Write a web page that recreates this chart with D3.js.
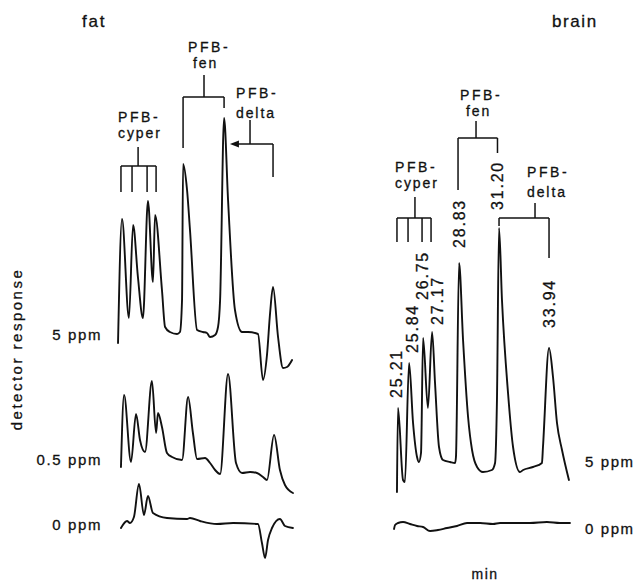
<!DOCTYPE html>
<html>
<head>
<meta charset="utf-8">
<script src="https://cdn.jsdelivr.net/npm/d3@7"></script>
<style>
  html, body { margin: 0; padding: 0; background: #fff; }
  svg { display: block; }
  text { font-family: 'Liberation Sans', Arial, sans-serif; fill: #111; stroke: #111; stroke-width: 0.3px; }
</style>
</head>
<body>
<svg id="chart" width="635" height="582"></svg>
<script>
// ---------------- DATA (time in min, response in arbitrary units) ----------------
const panels = ["fat", "brain"];
const fatLevels = ["5 ppm", "0.5 ppm", "0 ppm"];
const brainLevels = ["5 ppm", "0 ppm"];
const timeDomain = [24, 36];

const fat5ppm = [[24.98,-5],[25.21,57],[25.61,7.5],[25.85,54],[26.13,28],[26.42,7.5],[26.71,66],[27.00,25.5],
  [27.12,59],[27.52,21.5],[27.70,3],[27.98,0.5],[28.39,-0.5],[28.56,0.5],[28.68,16.5],[28.74,84.5],[28.97,71.5],
  [29.14,51.5],[29.55,1.5],[29.89,0.5],[30.12,0],[30.30,-2],[30.59,-1],[30.76,3],[30.88,16.5],[31.11,107.5],
  [31.34,66.5],[31.74,11.5],[32.15,0.5],[32.49,0.5],[33.07,-0.5],[33.36,-23.5],[33.59,-11],[33.77,10],[33.94,23],
  [34.23,-2],[34.52,-17.5],[34.75,-17],[35.04,-13.5]];

const fat05ppm = [[25.15,-1],[25.33,35],[25.73,1.5],[26.02,25.5],[26.25,12.5],[26.54,6.5],[26.94,42],[27.18,16],
  [27.29,26],[27.52,19],[27.81,6],[28.10,4],[28.68,2.5],[29.03,34],[29.31,16],[29.55,3],[30.01,3.5],[30.30,1],
  [30.59,-2.5],[30.88,-4.5],[31.34,45.5],[31.80,1],[32.15,-4],[32.61,-3.5],[33.01,-4],[33.36,-6],[33.59,-7.5],
  [34.00,15],[34.34,-2.5],[34.63,-10],[35.09,-14]];

const fat0ppm = [[25.15,-3],[25.50,0.5],[25.67,-0.5],[25.90,2.5],[26.19,19],[26.48,3.5],[26.71,13],[27.00,4.5],
  [27.81,2],[28.97,1.5],[29.14,2],[29.72,0.5],[30.70,-1],[31.63,-0.5],[33.07,-1],[33.30,-10.5],[33.48,-18],
  [33.65,-9],[33.88,-3],[34.34,1.5],[34.63,-2],[35.09,-3]];

const brain5ppm = [[25.15,-13.5],[25.21,28.5],[25.50,-7.5],[25.61,-8.5],[25.85,51],[26.08,21],[26.31,4],[26.42,1.5],
  [26.54,6],[26.66,63.5],[26.94,28.5],[27.18,66.5],[27.35,41],[27.58,9],[27.81,2.5],[28.22,1.5],[28.51,1],[28.56,4],
  [28.74,101],[28.97,62.5],[29.26,24],[29.49,7.5],[29.78,-1],[30.12,-3.5],[30.64,-2.5],[30.82,1],[30.93,32.5],
  [31.05,118.5],[31.22,82.5],[31.57,36],[31.86,9],[32.26,-3.5],[32.44,-2.5],[33.01,-1],[33.53,1],[33.59,9],
  [33.94,58.5],[34.17,44],[34.40,21],[34.69,7.5],[35.09,-7.5]];

const brain0ppm = [[24.98,-2],[25.04,0],[25.21,1],[25.50,1.5],[25.90,0.5],[26.31,-0.5],[26.66,-1],[27.06,-3],
  [27.52,-2.5],[28.04,-1.5],[28.62,-0.5],[29.20,1],[29.95,1],[30.70,0.5],[31.11,1],[31.86,1],[32.84,1],
  [33.82,1.5],[34.57,1],[35.15,1]];

// peak identifications
const groupNames = [["PFB-", "cyper"], ["PFB-", "fen"], ["PFB-", "delta"]];
const fatCyperTimes = [25.15, 25.79, 26.66, 27.18];
const fatFenTimes = [28.74, 31.11];
const fatDeltaTimes = [31.45, 33.94];
const brainCyperTimes = [25.15, 25.79, 26.60, 27.12];
const brainFenTimes = [28.68, 30.96];
const brainDeltaTimes = [31.05, 33.94];
const retentionLabels = ["25.21", "25.84", "26.75", "27.17", "28.83", "31.20", "33.94"];
const axisTitleX = "min";
const axisTitleY = "detector response";

// ---------------- LAYOUT ----------------
const svg = d3.select("#chart");
const ink = "#111";
const xFat = d3.scaleLinear().domain(timeDomain).range([101.07, 308.67]);
const xBrain = d3.scaleLinear().domain(timeDomain).range([377.07, 584.67]);
const yFor = base => d3.scaleLinear().domain([0, 100]).range([base, base - 200]);

const yFat5 = yFor(333), yFat05 = yFor(465), yFat0 = yFor(522);
const yBrain5 = yFor(465), yBrain0 = yFor(525);

function trace(data, x, y) {
  const line = d3.line().x(d => x(d[0])).y(d => y(d[1])).curve(d3.curveMonotoneX);
  svg.append("path").attr("d", line(data))
    .attr("fill", "none").attr("stroke", ink).attr("stroke-width", 1.9)
    .attr("stroke-linejoin", "round").attr("stroke-linecap", "round");
}
trace(fat5ppm, xFat, yFat5);
trace(fat05ppm, xFat, yFat05);
trace(fat0ppm, xFat, yFat0);
trace(brain5ppm, xBrain, yBrain5);
trace(brain0ppm, xBrain, yBrain0);

function txt(x, y, s, opts = {}) {
  const t = svg.append("text").attr("x", x).attr("y", y).text(s)
    .style("font-size", (opts.size || 14) + "px")
    .style("letter-spacing", (opts.ls != null ? opts.ls : 1.6) + "px")
    .attr("text-anchor", opts.anchor || "start");
  if (opts.rotate) t.attr("transform", `rotate(-90 ${x} ${y})`);
  return t;
}
function seg(x1, y1, x2, y2, w = 1.5) {
  svg.append("line").attr("x1", x1).attr("y1", y1).attr("x2", x2).attr("y2", y2)
    .attr("stroke", ink).attr("stroke-width", w);
}

// titles
txt(82, 27, panels[0], { size: 17, ls: 1.8 });
txt(552, 27, panels[1], { size: 17, ls: 1.6 });
txt(22, 349, axisTitleY, { size: 15, ls: 2.5, rotate: true, anchor: "middle" });
txt(485, 579, axisTitleX, { size: 14, ls: 1.5, anchor: "middle" });

// level labels
txt(102, 340, fatLevels[0], { size: 15, anchor: "end", ls: 1.6 });
txt(102, 465, fatLevels[1], { size: 15, anchor: "end", ls: 1.6 });
txt(102, 530, fatLevels[2], { size: 15, anchor: "end", ls: 1.6 });
txt(585, 467, brainLevels[0], { size: 15, ls: 1.6 });
txt(585, 534, brainLevels[1], { size: 15, ls: 1.6 });

// ---- fat brackets ----
{
  const xs = fatCyperTimes.map(xFat);
  seg(xs[0], 166, xs[3], 166);
  xs.forEach(x => seg(x, 166, x, 192));
  const xm = xFat(26.14);
  seg(xm, 166, xm, 147);
  txt(118, 122, groupNames[0][0], { ls: 2.6 });
  txt(118, 138, groupNames[0][1], { ls: 1.9 });
}
{
  const [a, b] = fatFenTimes.map(xFat);
  seg(a, 97, b, 97);
  seg(a, 97, a, 148);
  seg(b, 97, b, 108);
  const xm = xFat(29.95);
  seg(xm, 97, xm, 75);
  txt(188, 52, groupNames[1][0], { ls: 2.6 });
  txt(193, 68, groupNames[1][1], { ls: 1.9 });
}
{
  const [a, b] = fatDeltaTimes.map(xFat);
  seg(a + 6, 144, b, 144);
  seg(b, 144, b, 177);
  svg.append("path").attr("d", `M${a},144 L${a + 9},140.5 L${a + 9},147.5 Z`).attr("fill", ink);
  const xm = xFat(32.61);
  seg(xm, 144, xm, 120);
  txt(236, 98, groupNames[2][0], { ls: 2.6 });
  txt(236, 118, groupNames[2][1], { ls: 1.9 });
}

// ---- brain brackets ----
{
  const xs = brainCyperTimes.map(xBrain);
  seg(xs[0], 218, xs[3], 218);
  xs.forEach(x => seg(x, 218, x, 242));
  const xm = xBrain(26.19);
  seg(xm, 218, xm, 197);
  txt(395, 172, groupNames[0][0], { ls: 2.6 });
  txt(395, 188, groupNames[0][1], { ls: 1.9 });
}
{
  const [a, b] = brainFenTimes.map(xBrain);
  seg(a, 138, b, 138);
  seg(a, 138, a, 190);
  seg(b, 138, b, 153);
  const xm = xBrain(29.72);
  seg(xm, 138, xm, 121);
  txt(460, 100, groupNames[1][0], { ls: 2.6 });
  txt(466, 116, groupNames[1][1], { ls: 1.9 });
}
{
  const [a, b] = brainDeltaTimes.map(xBrain);
  seg(a, 218, b, 218);
  seg(a, 218, a, 226);
  seg(b, 218, b, 258);
  const xm = xBrain(33.13);
  seg(xm, 218, xm, 203);
  txt(527, 177, groupNames[2][0], { ls: 2.6 });
  txt(527, 197, groupNames[2][1], { ls: 1.9 });
}

// retention-time labels (rotated)
const rtNudge = [-2, 3, -2, 5, -1, -4, 0];
const rtBottom = [398, 353, 300, 325, 248, 210, 328];
retentionLabels.forEach((s, i) => {
  const x = xBrain(+s) + rtNudge[i];
  const y = rtBottom[i];
  svg.append("text").attr("x", x).attr("y", y).text(s)
    .attr("transform", `rotate(-90 ${x} ${y})`)
    .attr("dy", "0.36em")
    .style("font-size", "16px").style("letter-spacing", "1.8px");
});
</script>
</body>
</html>
